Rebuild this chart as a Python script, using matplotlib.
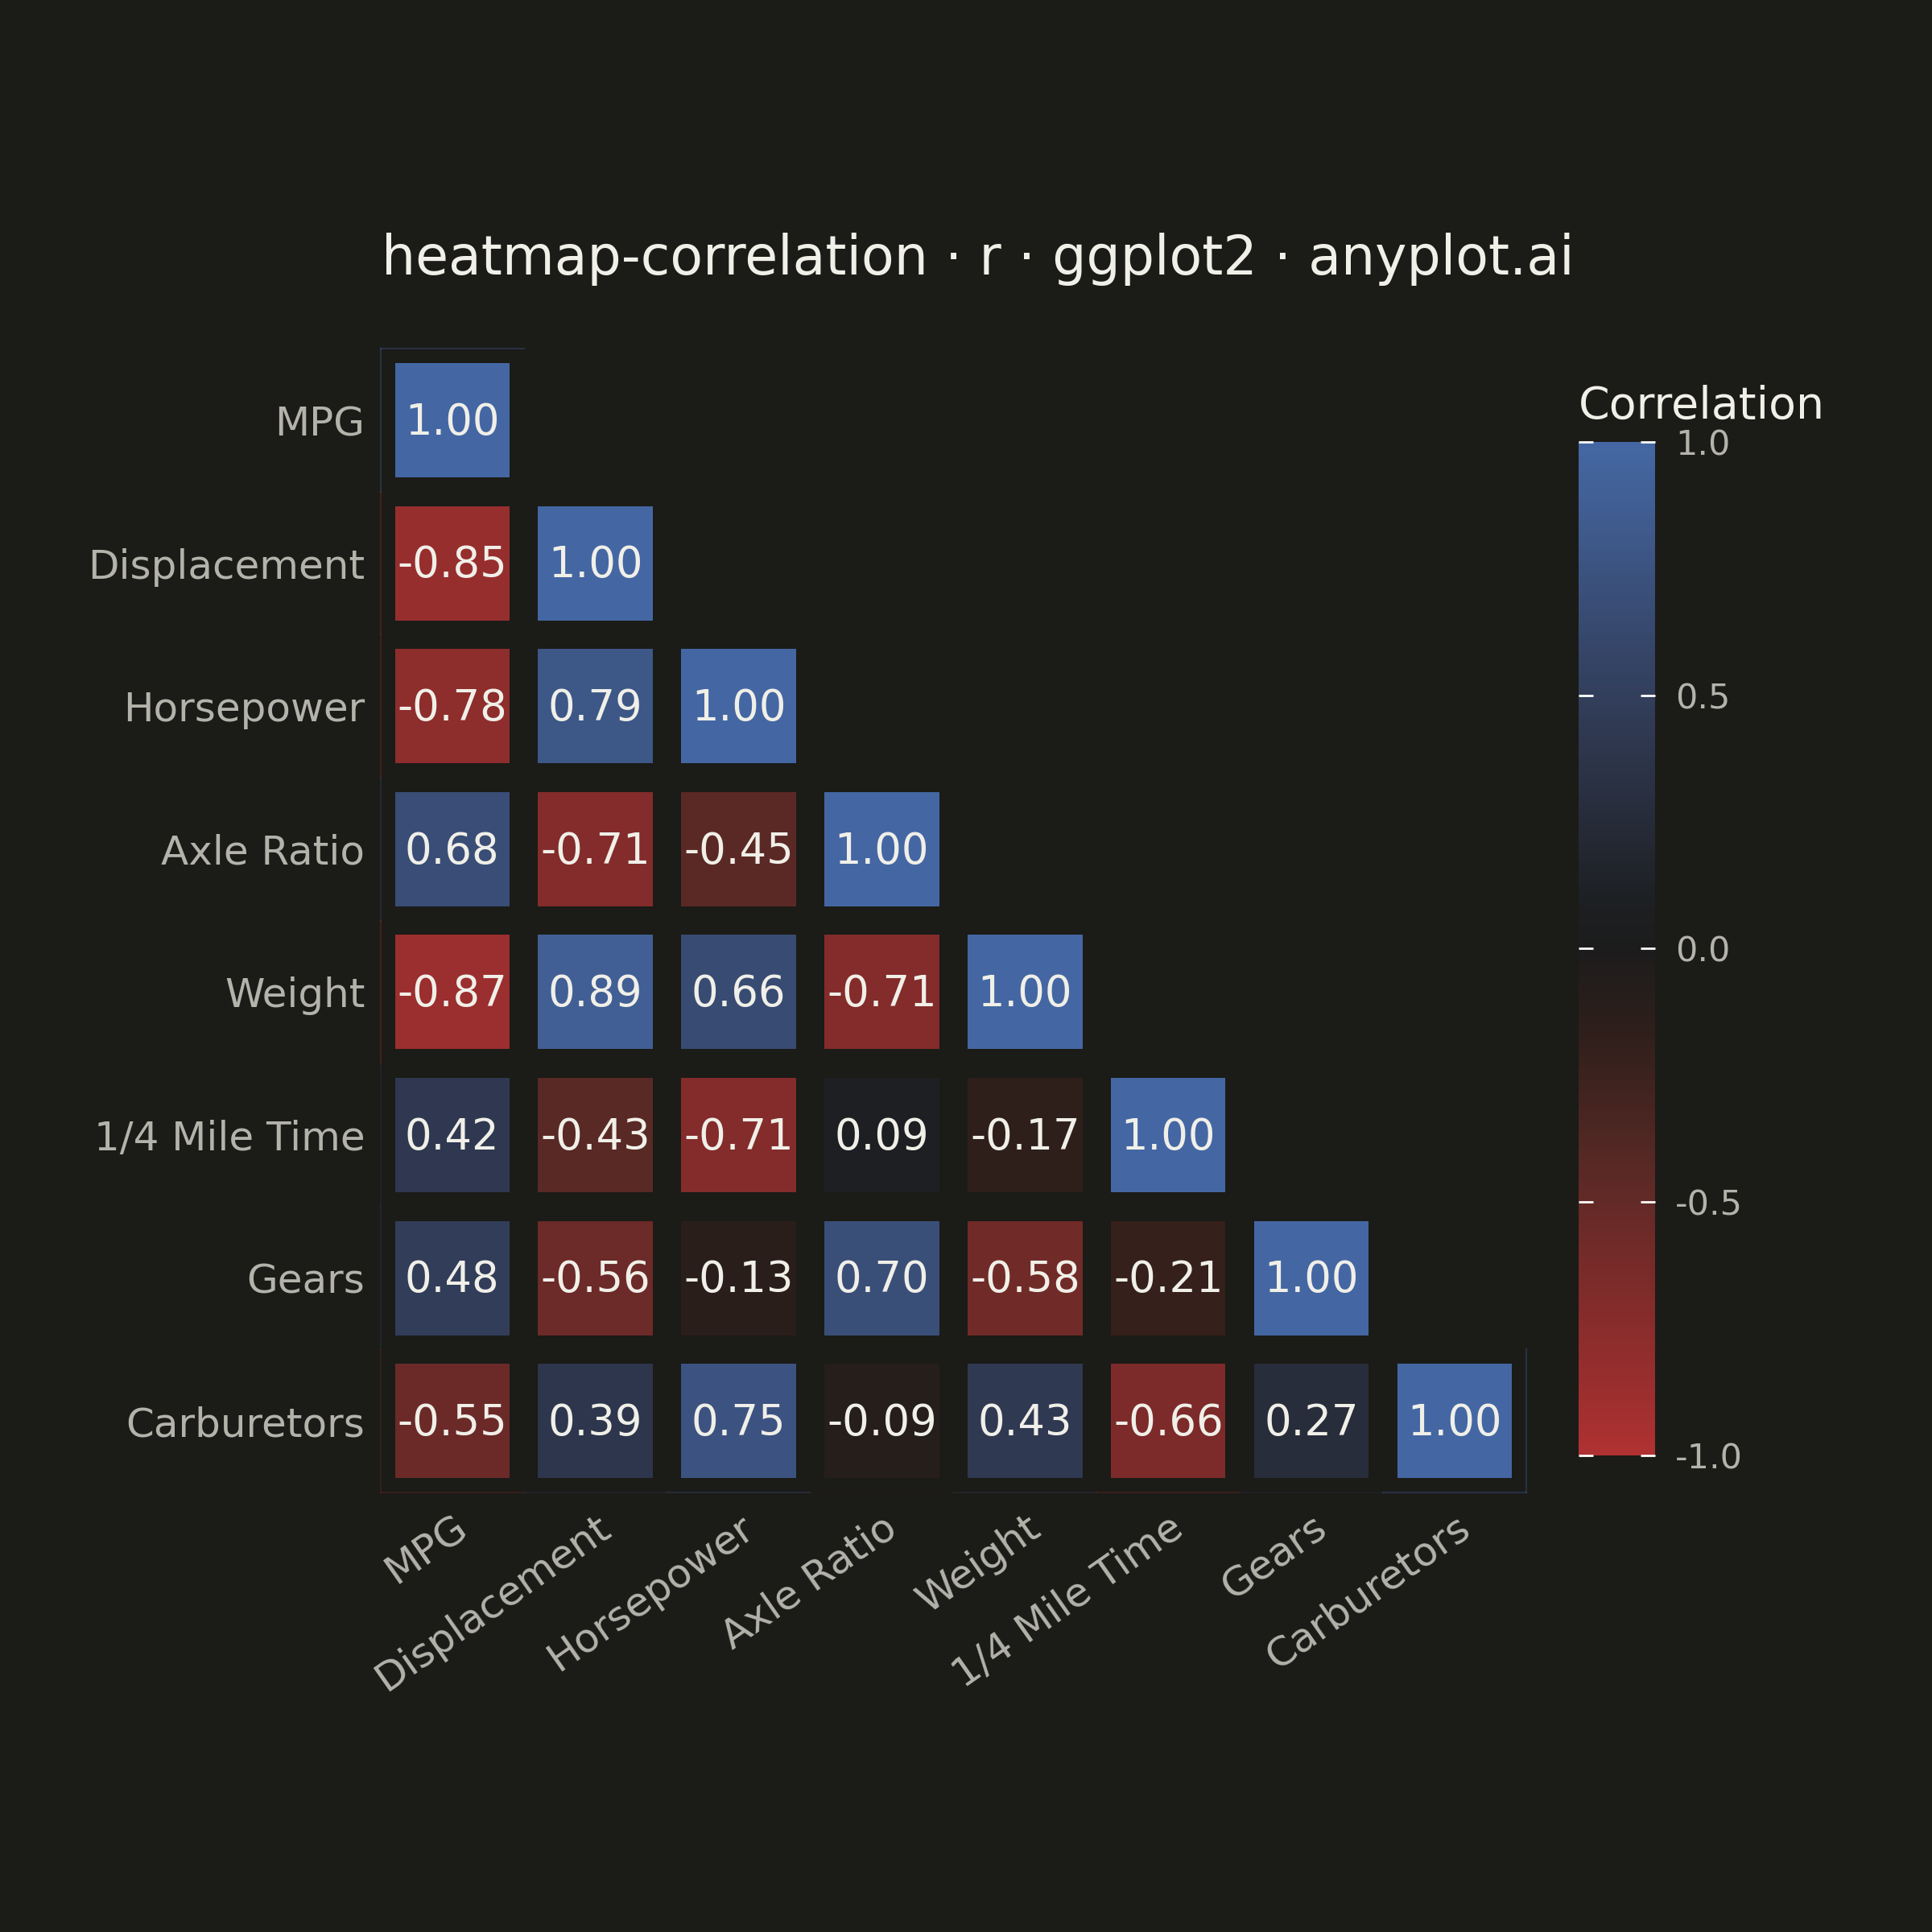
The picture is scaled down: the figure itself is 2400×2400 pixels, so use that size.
import numpy as np
import matplotlib
matplotlib.use('Agg')
import matplotlib.pyplot as plt
from matplotlib.colors import LinearSegmentedColormap, Normalize
from matplotlib.patches import Rectangle

# variables of the mtcars subset, in plot order
variables = ['MPG', 'Displacement', 'Horsepower', 'Axle Ratio', 'Weight',
             '1/4 Mile Time', 'Gears', 'Carburetors']

# lower triangle, row by row (diagonal excluded)
row_displacement = [-0.85]
row_horsepower = [-0.78, 0.79]
row_axle = [0.68, -0.71, -0.45]
row_weight = [-0.87, 0.89, 0.66, -0.71]
row_qsec = [0.42, -0.43, -0.71, 0.09, -0.17]
row_gears = [0.48, -0.56, -0.13, 0.70, -0.58, -0.21]
row_carb = [-0.55, 0.39, 0.75, -0.09, 0.43, -0.66, 0.27]

cbar_ticks = [-1.0, -0.5, 0.0, 0.5, 1.0]

lower_rows = [[], row_displacement, row_horsepower, row_axle, row_weight,
              row_qsec, row_gears, row_carb]
n = len(variables)
corr = np.full((n, n), np.nan)
for i, vals in enumerate(lower_rows):
    corr[i, :i] = vals
    corr[i, i] = 1.0

bg = '#1b1b17'
txt = '#f0efe8'
tick_col = '#b3b3ab'

# diverging red - dark - blue scale (colour stops)
stops = [(-1.0, '#b03131'), (-0.87, '#9a2e2e'), (-0.71, '#832c2b'),
         (-0.43, '#582925'), (-0.17, '#2f1f1b'), (0.0, '#1c1c1c'),
         (0.09, '#1d1f22'), (0.42, '#2f3850'), (0.66, '#384b72'),
         (0.89, '#415f95'), (1.0, '#4467a3')]
cmap = LinearSegmentedColormap.from_list(
    'rdbu_dark', [((v + 1) / 2, c) for v, c in stops])
norm = Normalize(-1, 1)

fig = plt.figure(figsize=(12, 12), dpi=200, facecolor=bg)
ax = fig.add_axes([0.197, 0.2275, 0.593, 0.592])
ax.set_facecolor(bg)

# tiles
size = 0.8
for i in range(n):
    for j in range(i + 1):
        v = corr[i, j]
        col = cmap(norm(v))
        ax.add_patch(Rectangle((j - size / 2, i - size / 2), size, size,
                               facecolor=col, edgecolor='none'))
        ax.text(j, i - 0.015, f'{v:.2f}', ha='center', va='center_baseline',
                color=txt, fontsize=19)
        # faint clip edge where the tile meets the panel border
        faint = dict(color=col, alpha=0.3, lw=0.8, clip_on=False)
        if j == 0:
            ax.plot([-0.5, -0.5], [i - 0.5, i + 0.5], **faint)
        if i == n - 1:
            ax.plot([j - 0.5, j + 0.5], [n - 0.5, n - 0.5], **faint)
        if i == 0:
            ax.plot([j - 0.5, j + 0.5], [-0.5, -0.5], **faint)
        if j == n - 1:
            ax.plot([n - 0.5, n - 0.5], [i - 0.5, i + 0.5], **faint)

ax.set_xlim(-0.5, n - 0.5)
ax.set_ylim(n - 0.5, -0.5)
ax.set_xticks(range(n))
ax.set_yticks(range(n))
ax.set_xticklabels(variables, rotation=35, ha='right', va='top',
                   rotation_mode='anchor', fontsize=18, color=tick_col)
ax.set_yticklabels(variables, fontsize=18, color=tick_col)
ax.tick_params(length=0, pad=7)
for s in ax.spines.values():
    s.set_visible(False)

fig.text(0.506, 0.866, 'heatmap-correlation · r · ggplot2 · anyplot.ai',
         ha='center', va='center', fontsize=24, color=txt)

# colorbar
cax = fig.add_axes([0.817, 0.2467, 0.0396, 0.5246])
sm = plt.cm.ScalarMappable(norm=norm, cmap=cmap)
cb = fig.colorbar(sm, cax=cax, ticks=cbar_ticks)
cb.outline.set_visible(False)
cb.ax.set_yticklabels([f'{t:.1f}' for t in cbar_ticks])
cb.ax.tick_params(left=True, right=True, direction='in', length=6.5,
                  width=1, color='white', labelsize=15.5,
                  labelcolor=tick_col, pad=9)
fig.text(0.817, 0.7895, 'Correlation', ha='left', va='center',
         fontsize=20, color=txt)

fig.savefig('out.png', dpi=200, facecolor=bg)
